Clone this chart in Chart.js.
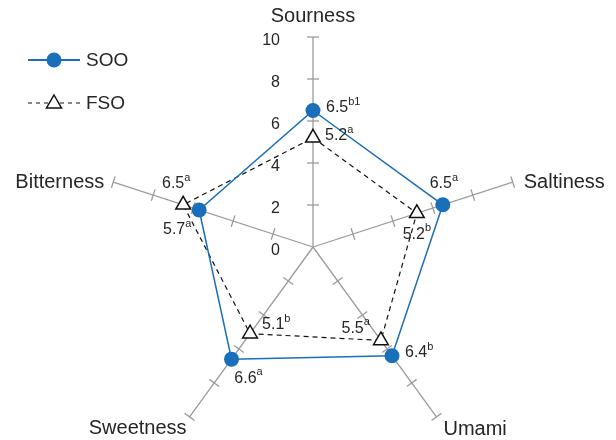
<!DOCTYPE html>
<html>
<head>
<meta charset="utf-8">
<script src="https://cdn.jsdelivr.net/npm/chart.js@4"></script>
<style>
  html, body { margin: 0; background: #fff; overflow: hidden; }
  #wrap { width: 616px; height: 457px; }
</style>
</head>
<body>
<div id="wrap"><canvas id="radar"></canvas></div>
<script>
// taste attributes, clockwise from the top
const categories = ["Sourness", "Saltiness", "Umami", "Sweetness", "Bitterness"];
const sooValues = [6.5, 6.5, 6.4, 6.6, 5.7];
const fsoValues = [5.2, 5.2, 5.5, 5.1, 6.5];
// significance letters shown as superscripts
const sooLetters = ["b1", "a", "b", "a", "a"];
const fsoLetters = ["a", "b", "a", "b", "a"];
const tickValues = [0, 2, 4, 6, 8, 10];

const blue = "#1a6fba";
const axisGray = "#9b9b9b";
const textColor = "#262626";
const fontFamily = "'Liberation Sans', Arial, sans-serif";

// where each value label sits relative to its point: [anchor, dx, dy]
const sooPlace = [["left", 13, -3], ["center", 1, -21], ["left", 13, -3], ["center", 17, 19], ["center", -22, 20]];
const fsoPlace = [["left", 12, -2], ["center", 0, 21], ["right", -11, -12], ["left", 12, -9], ["center", -7, -21]];
// category names relative to the spoke ends: [align, dx, dy]
const namePlace = [["center", 0, -21], ["left", 11, 0], ["left", 7, 13], ["right", -3, 12], ["right", -9, 0]];

const axisDecor = {
    id: "axisDecor",
    beforeDatasetsDraw(chart) {
        const ctx = chart.ctx;
        const r = chart.scales.r;
        ctx.save();
        ctx.strokeStyle = axisGray;
        ctx.lineWidth = 1.3;
        // small cross ticks on every spoke
        categories.forEach((c, i) => {
            const a = r.getIndexAngle(i) - Math.PI / 2;
            const px = -Math.sin(a), py = Math.cos(a);
            tickValues.slice(1).forEach(v => {
                const p = r.getPointPositionForValue(i, v);
                ctx.beginPath();
                ctx.moveTo(p.x - px * 6, p.y - py * 6);
                ctx.lineTo(p.x + px * 6, p.y + py * 6);
                ctx.stroke();
            });
        });
        ctx.fillStyle = textColor;
        // value labels left of the top spoke
        ctx.font = "16px " + fontFamily;
        ctx.textAlign = "right";
        ctx.textBaseline = "middle";
        tickValues.forEach(v => {
            const p = r.getPointPositionForValue(0, v);
            ctx.fillText(String(v), p.x - 33, p.y + 4);
        });
        // category names past the spoke ends
        ctx.font = "20px " + fontFamily;
        categories.forEach((c, i) => {
            const p = r.getPointPositionForValue(i, r.max);
            const [align, dx, dy] = namePlace[i];
            ctx.textAlign = align;
            ctx.fillText(c, p.x + dx, p.y + dy);
        });
        ctx.restore();
    },
    afterDatasetsDraw(chart) {
        const ctx = chart.ctx;
        ctx.save();
        ctx.fillStyle = textColor;
        ctx.textBaseline = "middle";
        ctx.textAlign = "left";
        const sets = [[sooValues, sooLetters, sooPlace], [fsoValues, fsoLetters, fsoPlace]];
        sets.forEach(([vals, letters, place], d) => {
            const meta = chart.getDatasetMeta(d);
            vals.forEach((v, i) => {
                const pt = meta.data[i];
                const main = v.toFixed(1);
                ctx.font = "16px " + fontFamily;
                const w1 = ctx.measureText(main).width;
                ctx.font = "11px " + fontFamily;
                const w2 = ctx.measureText(letters[i]).width;
                const [anchor, dx, dy] = place[i];
                let x = pt.x + dx;
                if (anchor === "center") x -= (w1 + w2) / 2;
                if (anchor === "right") x -= (w1 + w2);
                const y = pt.y + dy;
                ctx.font = "16px " + fontFamily;
                ctx.fillText(main, x, y);
                ctx.font = "11px " + fontFamily;
                ctx.fillText(letters[i], x + w1, y - 6);
            });
        });
        ctx.restore();
    },
    afterDraw(chart) {
        // legend, top left
        const ctx = chart.ctx;
        ctx.save();
        ctx.lineWidth = 1.8;
        ctx.strokeStyle = blue;
        ctx.beginPath();
        ctx.moveTo(28, 60);
        ctx.lineTo(80, 60);
        ctx.stroke();
        ctx.fillStyle = blue;
        ctx.beginPath();
        ctx.arc(54, 60, 7.5, 0, Math.PI * 2);
        ctx.fill();

        ctx.strokeStyle = "#111";
        ctx.lineWidth = 1.2;
        ctx.setLineDash([4, 4]);
        ctx.beginPath();
        ctx.moveTo(28, 103);
        ctx.lineTo(80, 103);
        ctx.stroke();
        ctx.setLineDash([]);
        ctx.fillStyle = "#fff";
        ctx.lineWidth = 1.5;
        ctx.beginPath();
        ctx.moveTo(54, 95);
        ctx.lineTo(61.5, 108);
        ctx.lineTo(46.5, 108);
        ctx.closePath();
        ctx.fill();
        ctx.stroke();

        ctx.fillStyle = textColor;
        ctx.font = "19px " + fontFamily;
        ctx.textAlign = "left";
        ctx.textBaseline = "middle";
        ctx.fillText("SOO", 86, 61);
        ctx.fillText("FSO", 86, 104);
        ctx.restore();
    }
};

new Chart(document.getElementById("radar"), {
    type: "radar",
    data: {
        labels: categories,
        datasets: [
            {
                label: "SOO",
                data: sooValues,
                borderColor: blue,
                borderWidth: 1.5,
                backgroundColor: "transparent",
                fill: false,
                pointStyle: "circle",
                pointRadius: 7.5,
                pointBorderWidth: 0,
                pointBackgroundColor: blue,
                pointBorderColor: blue
            },
            {
                label: "FSO",
                data: fsoValues,
                borderColor: "#111",
                borderWidth: 1.2,
                borderDash: [5, 4],
                backgroundColor: "transparent",
                fill: false,
                pointStyle: "triangle",
                pointRadius: 8.5,
                pointBorderWidth: 1.5,
                pointBackgroundColor: "#fff",
                pointBorderColor: "#111"
            }
        ]
    },
    options: {
        responsive: true,
        maintainAspectRatio: false,
        animation: false,
        layout: { padding: { top: 37, bottom: 0, left: 10, right: 0 } },
        elements: { line: { tension: 0 } },
        plugins: {
            legend: { display: false },
            tooltip: { enabled: false }
        },
        scales: {
            r: {
                min: 0,
                max: 10,
                ticks: { display: false, stepSize: 2 },
                grid: { display: false },
                angleLines: { display: true, color: axisGray, lineWidth: 1.3 },
                pointLabels: { display: false }
            }
        }
    },
    plugins: [axisDecor]
});
</script>
</body>
</html>
